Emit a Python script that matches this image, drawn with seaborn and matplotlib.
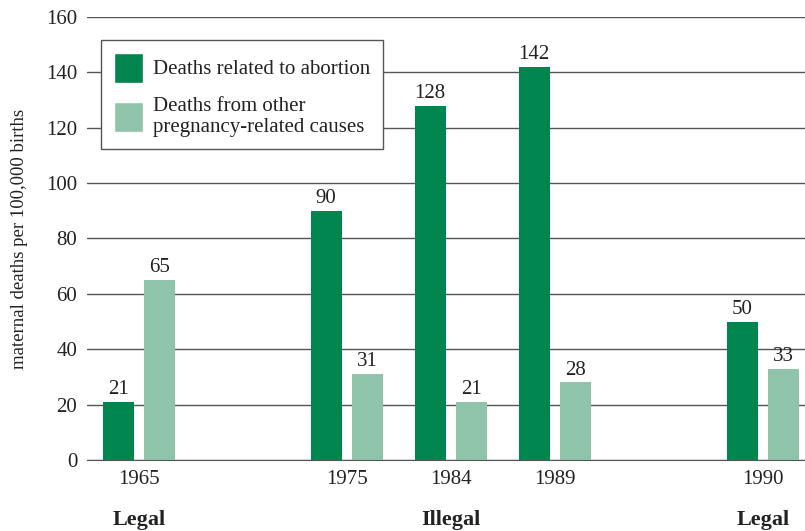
import pandas as pd
import matplotlib.pyplot as plt
import seaborn as sns
from matplotlib.patches import Patch

# --- data ---
slots = ["1965", "gap1", "1975", "1984", "1989", "gap2", "1990"]
years = ["1965", "1975", "1984", "1989", "1990"]
abortion = [21, 90, 128, 142, 50]
other = [65, 31, 21, 28, 33]
series = ["Deaths related to abortion", "Deaths from other\npregnancy-related causes"]
status_labels = ["Legal", "Illegal", "Legal"]
status_years = ["1965", "1984", "1990"]

dark = "#00854f"
light = "#8fc3aa"

df = pd.DataFrame({
    "year": years * 2,
    "deaths": abortion + other,
    "cause": [series[0]] * len(years) + [series[1]] * len(years),
})

sns.set_style("white")
plt.rcParams["font.family"] = ["Liberation Serif", "DejaVu Serif"]

fig = plt.figure(figsize=(8.05, 5.31), dpi=100)
ax = fig.add_axes([87 / 805, 71 / 531, 1 - 87 / 805, 443 / 531])

sns.barplot(data=df, x="year", y="deaths", hue="cause", order=slots,
            hue_order=series, palette=[dark, light], width=0.8, gap=0.25,
            saturation=1, linewidth=0, ax=ax, legend=False)

ax.set_ylim(0, 160)
ax.set_xlim(-0.5, 6.404)
ax.set_yticks(range(0, 161, 20))
ax.yaxis.grid(True, color="#555555", linewidth=1)
ax.set_axisbelow(True)
for s in ["left", "right", "top"]:
    ax.spines[s].set_visible(False)
ax.spines["bottom"].set_color("#555555")
ax.tick_params(axis="y", length=0, labelsize=15, pad=7, colors="#222222")

# year labels at slot centres, tick marks at slot boundaries
ax.set_xticks(range(len(slots)))
ax.set_xticklabels([s if not s.startswith("gap") else "" for s in slots])
ax.tick_params(axis="x", which="major", length=0, labelsize=15, pad=7, colors="#222222")
ax.set_xticks([i - 0.5 for i in range(len(slots))], minor=True)
ax.tick_params(axis="x", which="minor", length=10, width=1, color="#555555")

ax.set_xlabel("")
ax.set_ylabel("maternal deaths per 100,000 births", fontsize=13.5, color="#222222")
ax.yaxis.set_label_coords(-59 / 718, 0.5)

# value labels
for cont in ax.containers:
    ax.bar_label(cont, padding=2, fontsize=15, color="#222222")

# legal status labels
for lab, yr in zip(status_labels, status_years):
    ax.text(slots.index(yr), -0.135, lab, transform=ax.get_xaxis_transform(),
            ha="center", va="center", fontsize=16, fontweight="bold", color="#222222")

handles = [Patch(facecolor=dark, label=series[0]), Patch(facecolor=light, label=series[1])]
leg = ax.legend(handles=handles, loc="upper left", bbox_to_anchor=(0.0195, 0.948),
                borderaxespad=0, frameon=True, fancybox=False,
                handlelength=1.4, handleheight=1.84, labelspacing=0.7,
                borderpad=0.6, handletextpad=0.5, prop={"size": 15}, labelcolor="#222222")
leg.get_frame().set_edgecolor("#555555")
leg.get_frame().set_linewidth(1)
leg.get_frame().set_alpha(1)
for t in leg.get_texts():
    t.set_linespacing(1.1)

fig.savefig("out.png", dpi=100)
